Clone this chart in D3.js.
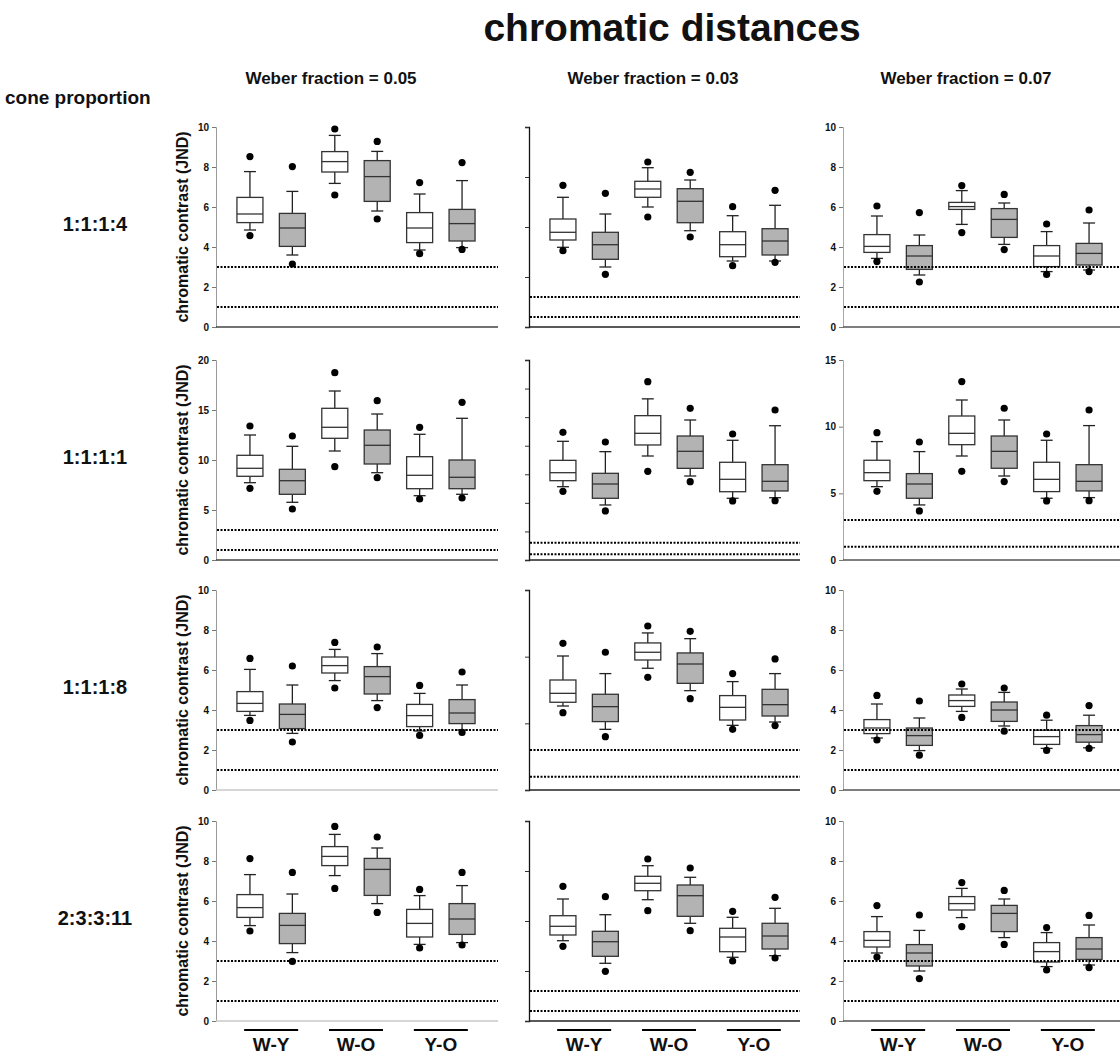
<!DOCTYPE html>
<html>
<head>
<meta charset="utf-8">
<script src="https://cdn.jsdelivr.net/npm/d3@7"></script>
<style>
  html, body { margin: 0; padding: 0; background: #fff; }
  svg { display: block; }
  text { font-family: "Liberation Sans", Arial, sans-serif; font-weight: bold; fill: #111; }
</style>
</head>
<body>
<svg id="chart" width="1120" height="1057"></svg>
<script>
// ---- data ---------------------------------------------------------------
const weberFractions = ["0.05", "0.03", "0.07"];
const coneProportions = ["1:1:1:4", "1:1:1:1", "1:1:1:8", "2:3:3:11"];
const colourPairs = ["W-Y", "W-O", "Y-O"];
const groups = ["open", "shaded"];
const thresholds = [3, 1];

// y-axis maximum and tick step for each cone proportion (rows)
const yMaxW005 = [10, 20, 10, 10];
const yMaxW003 = [20, 35, 15, 20];
const yMaxW007 = [10, 15, 10, 10];
const tickStepW005 = [2, 5, 2, 2];
const tickStepW003 = [5, 5, 5, 5];
const tickStepW007 = [2, 5, 2, 2];

// each box: [low dot, lower whisker, Q1, median, Q3, upper whisker, high dot]
// order: W-Y open, W-Y shaded, W-O open, W-O shaded, Y-O open, Y-O shaded
const w005_1114 = [
  [4.57, 4.85, 5.22, 5.65, 6.48, 7.77, 8.52],
  [3.15, 3.60, 4.03, 4.95, 5.68, 6.78, 8.02],
  [6.60, 7.18, 7.75, 8.27, 8.77, 9.58, 9.90],
  [5.40, 5.80, 6.28, 7.52, 8.32, 8.78, 9.28],
  [3.67, 3.85, 4.22, 4.95, 5.72, 6.65, 7.22],
  [3.88, 3.97, 4.30, 5.17, 5.88, 7.32, 8.22]
];
const w005_1111 = [
  [7.17, 7.73, 8.37, 9.17, 10.47, 12.50, 13.40],
  [5.10, 5.77, 6.57, 7.93, 9.07, 11.37, 12.40],
  [9.33, 10.90, 12.17, 13.27, 15.17, 16.90, 18.73],
  [8.23, 8.73, 9.60, 11.47, 13.00, 14.60, 15.93],
  [6.10, 6.43, 7.13, 8.47, 10.33, 12.57, 13.27],
  [6.20, 6.57, 7.13, 8.27, 10.00, 14.17, 15.77]
];
const w005_1118 = [
  [3.48, 3.73, 3.93, 4.33, 4.92, 6.03, 6.58],
  [2.40, 2.83, 3.07, 3.78, 4.30, 5.25, 6.20],
  [5.10, 5.47, 5.85, 6.22, 6.65, 7.03, 7.38],
  [4.12, 4.47, 4.80, 5.67, 6.17, 6.82, 7.15],
  [2.73, 2.95, 3.17, 3.72, 4.28, 4.83, 5.23],
  [2.88, 3.00, 3.32, 3.85, 4.52, 5.25, 5.90]
];
const w005_23311 = [
  [4.50, 4.77, 5.18, 5.67, 6.32, 7.32, 8.12],
  [2.98, 3.42, 3.87, 4.78, 5.38, 6.35, 7.43],
  [6.63, 7.27, 7.77, 8.23, 8.72, 9.33, 9.73],
  [5.43, 5.87, 6.28, 7.58, 8.13, 8.65, 9.20],
  [3.65, 3.83, 4.20, 4.88, 5.58, 6.27, 6.58],
  [3.80, 3.92, 4.33, 5.10, 5.87, 6.77, 7.43]
];
const w003_1114 = [
  [7.63, 7.97, 8.70, 9.47, 10.80, 12.97, 14.17],
  [5.27, 6.00, 6.77, 8.23, 9.47, 11.30, 13.37],
  [11.00, 12.00, 12.97, 13.80, 14.57, 15.93, 16.50],
  [9.00, 9.63, 10.43, 12.57, 13.83, 14.70, 15.47],
  [6.13, 6.60, 7.03, 8.23, 9.53, 11.13, 12.03],
  [6.47, 6.60, 7.20, 8.60, 9.83, 12.17, 13.67]
];
const w003_1111 = [
  [12.02, 12.83, 13.88, 15.28, 17.44, 20.77, 22.35],
  [8.58, 9.63, 10.80, 13.30, 15.17, 18.96, 20.65],
  [15.52, 18.20, 20.13, 22.17, 25.26, 28.20, 31.20],
  [13.70, 14.70, 16.04, 19.02, 21.70, 24.50, 26.55],
  [10.33, 10.80, 11.95, 14.12, 17.10, 20.95, 22.05],
  [10.38, 10.90, 12.08, 13.77, 16.68, 23.50, 26.25]
];
const w003_1118 = [
  [5.80, 6.30, 6.58, 7.25, 8.25, 10.05, 11.00],
  [4.00, 4.55, 5.13, 6.25, 7.18, 8.73, 10.33],
  [8.45, 9.13, 9.75, 10.33, 11.03, 11.78, 12.30],
  [6.85, 7.45, 8.00, 9.45, 10.28, 11.35, 11.90],
  [4.55, 4.85, 5.25, 6.20, 7.08, 8.13, 8.73],
  [4.83, 5.10, 5.55, 6.40, 7.55, 8.73, 9.83]
];
const w003_23311 = [
  [7.47, 8.03, 8.60, 9.47, 10.53, 12.20, 13.47],
  [4.97, 5.77, 6.47, 7.93, 8.97, 10.63, 12.43],
  [11.03, 12.13, 13.03, 13.77, 14.47, 15.53, 16.20],
  [9.03, 9.77, 10.47, 12.53, 13.60, 14.37, 15.30],
  [6.00, 6.37, 6.93, 8.40, 9.27, 10.37, 10.97],
  [6.30, 6.53, 7.20, 8.50, 9.77, 11.27, 12.37]
];
const w007_1114 = [
  [3.27, 3.43, 3.73, 4.03, 4.62, 5.55, 6.05],
  [2.25, 2.60, 2.88, 3.55, 4.07, 4.60, 5.72],
  [4.72, 5.13, 5.88, 6.02, 6.23, 6.82, 7.07],
  [3.87, 4.13, 4.48, 5.38, 5.92, 6.20, 6.63],
  [2.63, 2.77, 3.02, 3.55, 4.07, 4.77, 5.15],
  [2.77, 2.85, 3.10, 3.68, 4.18, 5.20, 5.85]
];
const w007_1111 = [
  [5.15, 5.50, 5.95, 6.55, 7.48, 8.88, 9.55],
  [3.68, 4.13, 4.63, 5.70, 6.48, 8.13, 8.85],
  [6.65, 7.80, 8.65, 9.50, 10.80, 12.00, 13.38],
  [5.88, 6.30, 6.88, 8.15, 9.30, 10.50, 11.38],
  [4.43, 4.63, 5.13, 6.05, 7.33, 8.98, 9.45],
  [4.45, 4.68, 5.18, 5.90, 7.15, 10.08, 11.25]
];
const w007_1118 = [
  [2.50, 2.60, 2.82, 3.10, 3.52, 4.30, 4.73],
  [1.74, 1.97, 2.23, 2.72, 3.10, 3.60, 4.45],
  [3.63, 3.93, 4.18, 4.47, 4.75, 5.05, 5.30],
  [2.94, 3.20, 3.43, 4.00, 4.40, 4.88, 5.10],
  [1.98, 2.08, 2.28, 2.67, 2.99, 3.49, 3.74],
  [2.08, 2.11, 2.39, 2.77, 3.22, 3.74, 4.22]
];
const w007_23311 = [
  [3.20, 3.40, 3.70, 4.03, 4.47, 5.22, 5.77],
  [2.12, 2.50, 2.75, 3.40, 3.82, 4.53, 5.30],
  [4.72, 5.17, 5.55, 5.87, 6.22, 6.63, 6.92],
  [3.83, 4.17, 4.47, 5.38, 5.78, 6.10, 6.53],
  [2.55, 2.72, 2.95, 3.47, 3.92, 4.42, 4.67],
  [2.67, 2.80, 3.08, 3.60, 4.17, 4.80, 5.28]
];

// ---- panel table ---------------------------------------------------------
const boxesByColumn = [
  [w005_1114, w005_1111, w005_1118, w005_23311],
  [w003_1114, w003_1111, w003_1118, w003_23311],
  [w007_1114, w007_1111, w007_1118, w007_23311]
];
const yMaxByColumn = [yMaxW005, yMaxW003, yMaxW007];
const tickStepByColumn = [tickStepW005, tickStepW003, tickStepW007];

// ---- layout ---------------------------------------------------------------
const colAxisX = [216, 529, 843];
const colRight = [498, 800, 1120];
const colTitleX = [331, 653, 966];
const colShowTickLabels = [true, false, true];
const colAxisColour = ["#9a9a9a", "#111", "#a8a8a8"];
const baseColour = [
  ["#444", "#444", "#c8c8c8", "#c8c8c8"],
  ["#222", "#222", "#222", "#222"],
  ["#555", "#555", "#555", "#555"]
];
const rowZeroY = [327, 560, 790, 1021];
const panelH = 200;
const innerW = 280;
const boxW = 26;
const capW = 12;
const fills = { open: "#ffffff", shaded: "#b3b3b3" };

const svg = d3.select("#chart");

// headings
svg.append("text").attr("x", 672).attr("y", 41).attr("text-anchor", "middle")
  .style("font-size", "39px").text("chromatic distances");
svg.append("text").attr("x", 5).attr("y", 104)
  .style("font-size", "19px").text("cone proportion");
weberFractions.forEach((w, c) => {
  svg.append("text").attr("x", colTitleX[c]).attr("y", 84).attr("text-anchor", "middle")
    .style("font-size", "17px").text(`Weber fraction = ${w}`);
});
coneProportions.forEach((cp, r) => {
  svg.append("text").attr("x", 95).attr("y", rowZeroY[r] - panelH / 2 + 4)
    .attr("text-anchor", "middle").style("font-size", "20px").text(cp);
});

// one x position per box (pair × group)
const boxKeys = colourPairs.flatMap(p => groups.map(g => `${p}|${g}`));
const x = d3.scalePoint().domain(boxKeys).range([0, innerW]).padding(0.8);

boxesByColumn.forEach((colData, c) => {
  colData.forEach((boxes, r) => {
    const yMax = yMaxByColumn[c][r];
    const step = tickStepByColumn[c][r];
    const y = d3.scaleLinear().domain([0, yMax]).range([panelH, 0]);
    const g = svg.append("g")
      .attr("transform", `translate(${colAxisX[c]},${rowZeroY[r] - panelH})`);

    // y axis
    const ticks = d3.range(0, yMax + 1e-9, step);
    const axis = d3.axisLeft(y).tickValues(ticks).tickSize(4).tickPadding(3)
      .tickFormat(colShowTickLabels[c] ? d3.format("d") : () => "");
    const ag = g.append("g").call(axis);
    ag.select(".domain").attr("stroke", colAxisColour[c]).attr("stroke-width", c === 1 ? 1.3 : 1);
    ag.selectAll(".tick line").attr("stroke", c === 1 ? "#333" : "#777");
    ag.selectAll(".tick text").style("font-size", "10px").style("font-weight", "bold")
      .attr("fill", "#222");

    // bottom line
    g.append("line").attr("x1", 0).attr("x2", colRight[c] - colAxisX[c])
      .attr("y1", y(0)).attr("y2", y(0))
      .attr("stroke", baseColour[c][r]).attr("stroke-width", 1.3);

    if (c === 0) {
      g.append("text")
        .attr("transform", `translate(${-28},${panelH / 2}) rotate(-90)`)
        .attr("text-anchor", "middle").style("font-size", "16px")
        .text("chromatic contrast (JND)");
    }

    // boxes
    boxes.forEach((b, i) => {
      const key = boxKeys[i];
      const grp = key.split("|")[1];
      const cx = x(key);
      const [lo, wLo, q1, med, q3, wHi, hi] = b;
      const bg = g.append("g");
      bg.append("line").attr("x1", cx).attr("x2", cx).attr("y1", y(wHi)).attr("y2", y(q3))
        .attr("stroke", "#222").attr("stroke-width", 1.3);
      bg.append("line").attr("x1", cx).attr("x2", cx).attr("y1", y(q1)).attr("y2", y(wLo))
        .attr("stroke", "#222").attr("stroke-width", 1.3);
      [wHi, wLo].forEach(v => {
        bg.append("line").attr("x1", cx - capW / 2).attr("x2", cx + capW / 2)
          .attr("y1", y(v)).attr("y2", y(v)).attr("stroke", "#222").attr("stroke-width", 1.3);
      });
      bg.append("rect").attr("x", cx - boxW / 2).attr("width", boxW)
        .attr("y", y(q3)).attr("height", y(q1) - y(q3))
        .attr("fill", fills[grp]).attr("stroke", "#333").attr("stroke-width", 1.3);
      bg.append("line").attr("x1", cx - boxW / 2).attr("x2", cx + boxW / 2)
        .attr("y1", y(med)).attr("y2", y(med)).attr("stroke", "#333").attr("stroke-width", 1.3);
      [lo, hi].forEach(v => {
        bg.append("circle").attr("cx", cx).attr("cy", y(v)).attr("r", 3.6).attr("fill", "#000");
      });
    });

    // threshold lines
    thresholds.forEach(t => {
      g.append("line").attr("x1", 1).attr("x2", colRight[c] - colAxisX[c])
        .attr("y1", y(t)).attr("y2", y(t))
        .attr("stroke", "#000").attr("stroke-width", 2).attr("stroke-dasharray", "2,1.5");
    });
  });

  // category labels under the last row
  colourPairs.forEach(p => {
    const cx = colAxisX[c] + (x(`${p}|open`) + x(`${p}|shaded`)) / 2;
    svg.append("line").attr("x1", cx - 27).attr("x2", cx + 27)
      .attr("y1", 1030).attr("y2", 1030).attr("stroke", "#000").attr("stroke-width", 2);
    svg.append("text").attr("x", cx).attr("y", 1051).attr("text-anchor", "middle")
      .style("font-size", "19px").text(p);
  });
});
</script>
</body>
</html>
